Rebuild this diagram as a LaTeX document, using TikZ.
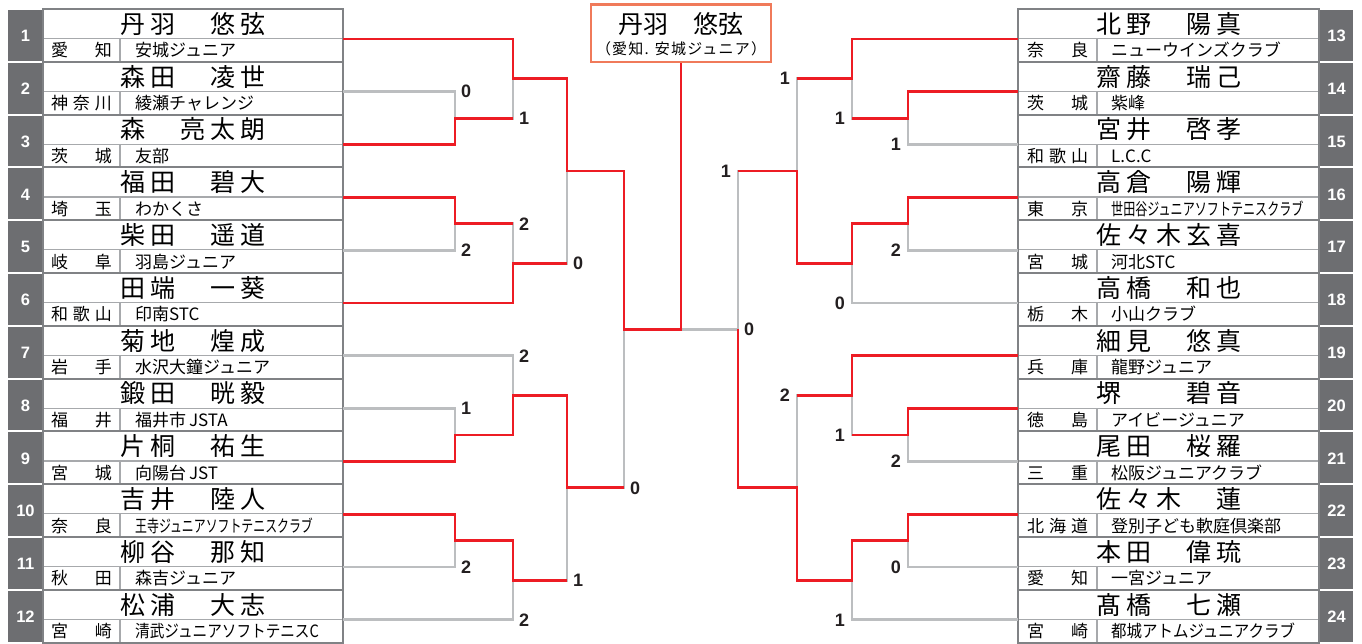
\documentclass[tikz,border=0pt]{standalone}
\usepackage{fontspec}
\usepackage{graphicx}
\newfontfamily\jpfont{Noto Sans CJK JP}
\newfontfamily\numfont{Liberation Sans}

\definecolor{winred}{HTML}{ED1C24}
\definecolor{losegray}{HTML}{BCBEC0}
\definecolor{numgray}{HTML}{6D6E71}
\definecolor{boxgray}{HTML}{808285}
\definecolor{rulegray}{HTML}{A7A9AC}
\definecolor{champorange}{HTML}{F07A5A}
\definecolor{scoreblack}{HTML}{231F20}

\tikzset{
  win/.style={draw=winred, line width=2.7pt},
  lose/.style={draw=losegray, line width=2.7pt},
  boxline/.style={draw=boxgray, line width=2pt},
  rowline/.style={draw=rulegray, line width=1.2pt},
  seedno/.style={text=white, inner sep=0pt, font=\numfont\bfseries\fontsize{16.5}{16.5}\selectfont},
  playername/.style={anchor=base, inner sep=0pt, font=\jpfont\fontsize{25}{25}\selectfont\addfontfeature{LetterSpace=20}},
  prefname/.style={anchor=base, inner sep=0pt, font=\jpfont\fontsize{17}{17}\selectfont},
  clubname/.style={anchor=base west, inner sep=0pt, font=\jpfont\fontsize{17}{17}\selectfont},
  lscore/.style={anchor=west, inner sep=0pt, xshift=6pt, text=scoreblack, font=\numfont\bfseries\fontsize{18}{18}\selectfont},
  rscore/.style={anchor=east, inner sep=0pt, xshift=-7pt, text=scoreblack, font=\numfont\bfseries\fontsize{18}{18}\selectfont},
}

% one player row, left half: seed, name, prefecture, club
\newcommand\leftslot[4]{%
  \pgfmathsetmacro\slottop{9+(#1-1)*52.8}
  \fill[numgray] (8,\slottop+1) rectangle (43,\slottop+51.8);
  \node[seedno] (no#1) at (25.5,\slottop+27) {#1};
  \draw[rowline] (43,\slottop+29.5) -- (343,\slottop+29.5);
  \draw[rowline] (120,\slottop+29.5) -- (120,\slottop+52.8);
  \draw[boxline] (43,\slottop) rectangle (343,\slottop+52.8);
  \node[playername] (name#1) at (193,\slottop+24.3) {#2};
  \node[prefname] (pref#1) at (81.5,\slottop+47.8) {\makebox[61pt][s]{#3}};
  \node[clubname] (club#1) at (135,\slottop+47.8) {#4};
  \coordinate (e#1) at (343,\slottop+30);
}
% one player row, right half
\newcommand\rightslot[4]{%
  \pgfmathsetmacro\slottop{9+(#1-13)*52.8}
  \fill[numgray] (1319,\slottop+1) rectangle (1353,\slottop+51.8);
  \node[seedno] (no#1) at (1336.5,\slottop+27) {#1};
  \draw[rowline] (1018,\slottop+29.5) -- (1319,\slottop+29.5);
  \draw[rowline] (1097,\slottop+29.5) -- (1097,\slottop+52.8);
  \draw[boxline] (1018,\slottop) rectangle (1319,\slottop+52.8);
  \node[playername] (name#1) at (1168.5,\slottop+24.3) {#2};
  \node[prefname] (pref#1) at (1057.5,\slottop+47.8) {\makebox[61pt][s]{#3}};
  \node[clubname] (club#1) at (1111,\slottop+47.8) {#4};
  \coordinate (e#1) at (1018,\slottop+30);
}

\begin{document}
\begin{tikzpicture}[x=1pt,y=-1pt]
\useasboundingbox (0,0) rectangle (1362,643);

% players
\leftslot{1}{丹羽　悠弦}{愛\hfill 知}{安城ジュニア}
\leftslot{2}{森田　凌世}{神\hfill 奈\hfill 川}{綾瀬チャレンジ}
\leftslot{3}{森　亮太朗}{茨\hfill 城}{友部}
\leftslot{4}{福田　碧大}{埼\hfill 玉}{わかくさ}
\leftslot{5}{柴田　遥道}{岐\hfill 阜}{羽島ジュニア}
\leftslot{6}{田端　一葵}{和\hfill 歌\hfill 山}{印南STC}
\leftslot{7}{菊地　煌成}{岩\hfill 手}{水沢大鐘ジュニア}
\leftslot{8}{鍛田　晄毅}{福\hfill 井}{福井市\,JSTA}
\leftslot{9}{片桐　祐生}{宮\hfill 城}{向陽台\,JST}
\leftslot{10}{吉井　陸人}{奈\hfill 良}{\scalebox{0.70}[1]{王寺ジュニアソフトテニスクラブ}}
\leftslot{11}{柳谷　那知}{秋\hfill 田}{森吉ジュニア}
\leftslot{12}{松浦　大志}{宮\hfill 崎}{\scalebox{0.86}[1]{清武ジュニアソフトテニスC}}
\rightslot{13}{北野　陽真}{奈\hfill 良}{ニューウインズクラブ}
\rightslot{14}{齋藤　瑞己}{茨\hfill 城}{紫峰}
\rightslot{15}{宮井　啓孝}{和\hfill 歌\hfill 山}{L.C.C}
\rightslot{16}{高倉　陽輝}{東\hfill 京}{\scalebox{0.71}[1]{世田谷ジュニアソフトテニスクラブ}}
\rightslot{17}{佐々木玄喜}{宮\hfill 城}{河北STC}
\rightslot{18}{高橋　和也}{栃\hfill 木}{小山クラブ}
\rightslot{19}{細見　悠真}{兵\hfill 庫}{龍野ジュニア}
\rightslot{20}{堺　　碧音}{徳\hfill 島}{アイビージュニア}
\rightslot{21}{尾田　桜羅}{三\hfill 重}{松阪ジュニアクラブ}
\rightslot{22}{佐々木　蓮}{北\hfill 海\hfill 道}{登別子ども軟庭倶楽部}
\rightslot{23}{本田　偉琉}{愛\hfill 知}{一宮ジュニア}
\rightslot{24}{髙橋　七瀬}{宮\hfill 崎}{\scalebox{0.91}[1]{都城アトムジュニアクラブ}}

% match points, left half
\coordinate (m1) at (455,118.2);
\coordinate (m2) at (513,78.6);
\coordinate (m3) at (455,223.8);
\coordinate (m4) at (513,263.4);
\coordinate (m5) at (567,171);
\coordinate (m6) at (455,435);
\coordinate (m7) at (513,395.4);
\coordinate (m8) at (455,540.6);
\coordinate (m9) at (513,580.2);
\coordinate (m10) at (567,487.8);
\coordinate (m11) at (624,329.4);
% match points, right half
\coordinate (n1) at (908,118.2);
\coordinate (n2) at (852,78.6);
\coordinate (n3) at (908,223.8);
\coordinate (n4) at (852,263.4);
\coordinate (n5) at (797,171);
\coordinate (n6) at (908,435);
\coordinate (n7) at (852,395.4);
\coordinate (n8) at (908,540.6);
\coordinate (n9) at (852,580.2);
\coordinate (n10) at (797,487.8);
\coordinate (n11) at (738,329.4);
\coordinate (fin) at (681,329.4);

% losing lines
\draw[lose] (e2) -| (m1);
\draw[lose] (m1) -| (m2);
\draw[lose] (e5) -| (m3);
\draw[lose] (m3) -| (m4);
\draw[lose] (m4) -| (m5);
\draw[lose] (e7) -| (m7);
\draw[lose] (e8) -| (m6);
\draw[lose] (e11) -| (m8);
\draw[lose] (e12) -| (m9);
\draw[lose] (m9) -| (m10);
\draw[lose] (m10) -| (m11);
\draw[lose] (e15) -| (n1);
\draw[lose] (n1) -| (n2);
\draw[lose] (e17) -| (n3);
\draw[lose] (e18) -| (n4);
\draw[lose] (n2) -| (n5);
\draw[lose] (e21) -| (n6);
\draw[lose] (n6) -| (n7);
\draw[lose] (e23) -| (n8);
\draw[lose] (e24) -| (n9);
\draw[lose] (n7) -| (n10);
\draw[lose] (n5) -| (n11);
\draw[lose] (n11) -- (fin);

% champion box
\node[draw=champorange, line width=2.5pt, fill=white, minimum width=180pt, minimum height=57.5pt, inner sep=0pt] (champ) at (681,33.25) {};
\node[anchor=base, inner sep=0pt, font=\jpfont\fontsize{25}{25}\selectfont] (champname) at (681,33.3) {丹羽　悠弦};
\node[anchor=base, inner sep=0pt, font=\jpfont\fontsize{15}{15}\selectfont\addfontfeature{LetterSpace=8}] (champclub) at (681,54) {（愛知. 安城ジュニア）};

% winning lines
\draw[win] (e1) -| (m2) -| (m5) -| (m11) -- (fin) -- (champ.south);
\draw[win] (e3) -| (m1) -- (m1 -| m2);
\draw[win] (e4) -| (m3) -- (m3 -| m4);
\draw[win] (e6) -| (m4) -- (m4 -| m5);
\draw[win] (e9) -| (m6) -| (m7) -| (m10) -- (m10 -| m11);
\draw[win] (e10) -| (m8) -| (m9) -- (m9 -| m10);
\draw[win] (e13) -| (n2) -- (n2 -| n5);
\draw[win] (e14) -| (n1) -- (n1 -| n2);
\draw[win] (e16) -| (n3) -| (n4) -| (n5) -- (n5 -| n11);
\draw[win] (e19) -| (n7) -- (n7 -| n10);
\draw[win] (e20) -| (n6) -- (n6 -| n7);
\draw[win] (e22) -| (n8) -| (n9) -| (n10) -| (n11);

% scores
\node[lscore] (s1) at (e2 -| m1) {0};
\node[lscore] (s2) at (m1 -| m2) {1};
\node[lscore] (s3) at (m3 -| m4) {2};
\node[lscore] (s4) at (e5 -| m3) {2};
\node[lscore] (s5) at (m4 -| m5) {0};
\node[lscore] (s6) at (e7 -| m7) {2};
\node[lscore] (s7) at (e8 -| m6) {1};
\node[lscore] (s8) at (e11 -| m8) {2};
\node[lscore] (s9) at (e12 -| m9) {2};
\node[lscore] (s10) at (m9 -| m10) {1};
\node[lscore] (s11) at (m10 -| m11) {0};
\node[rscore] (s12) at (n2 -| n5) {1};
\node[rscore] (s13) at (n1 -| n2) {1};
\node[rscore] (s14) at (e15 -| n1) {1};
\node[rscore] (s15) at (n5 -| n11) {1};
\node[rscore] (s16) at (e17 -| n3) {2};
\node[rscore] (s17) at (e18 -| n4) {0};
\node[lscore] (s18) at (n11) {0};
\node[rscore] (s19) at (n7 -| n10) {2};
\node[rscore] (s20) at (n6 -| n7) {1};
\node[rscore] (s21) at (e21 -| n6) {2};
\node[rscore] (s22) at (e23 -| n8) {0};
\node[rscore] (s23) at (e24 -| n9) {1};
\end{tikzpicture}
\end{document}
